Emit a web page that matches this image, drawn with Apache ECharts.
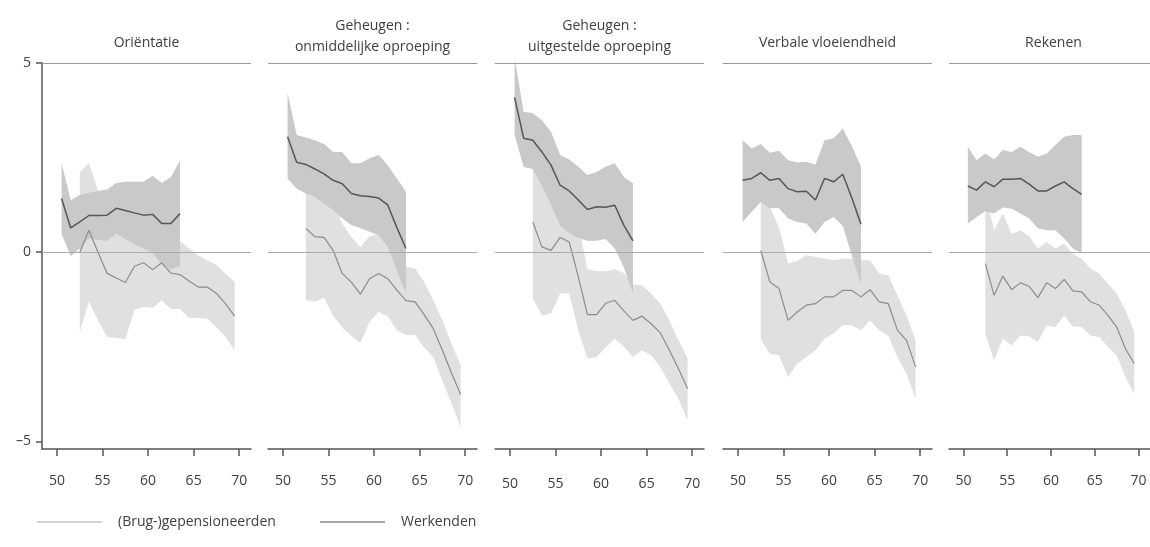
<!DOCTYPE html>
<html>
<head>
<meta charset="utf-8">
<script src="https://cdn.jsdelivr.net/npm/echarts@6/dist/echarts.min.js"></script>
<style>
html,body{margin:0;padding:0;background:#fff;}
#chart{width:1150px;height:547px;}
</style>
</head>
<body>
<div id="chart"></div>
<script>
// ---- data ----
const PANEL_TITLES = ['Oriëntatie', 'Geheugen :\nonmiddelijke oproeping', 'Geheugen :\nuitgestelde oproeping', 'Verbale vloeiendheid', 'Rekenen'];
const X_TICKS = [50, 55, 60, 65, 70];
const Y_TICKS = [-5, 0, 5];
const SERIES_RET = '(Brug-)gepensioneerden';
const SERIES_WERK = 'Werkenden';

const AGES_WERK = [50.5, 51.5, 52.5, 53.5, 54.5, 55.5, 56.5, 57.5, 58.5, 59.5, 60.5, 61.5, 62.5, 63.5];
const AGES_RET = [52.5, 53.5, 54.5, 55.5, 56.5, 57.5, 58.5, 59.5, 60.5, 61.5, 62.5, 63.5, 64.5, 65.5, 66.5, 67.5, 68.5, 69.5];

// Panel 1: Oriëntatie
const werkMean1 = [1.42, 0.64, 0.8, 0.97, 0.97, 0.98, 1.16, 1.1, 1.04, 0.98, 1.0, 0.76, 0.76, 1.02];
const werkHi1   = [2.36, 1.38, 1.51, 1.57, 1.62, 1.66, 1.83, 1.86, 1.86, 1.86, 2.02, 1.83, 1.98, 2.42];
const werkLo1   = [0.48, -0.1, 0.09, 0.37, 0.32, 0.3, 0.49, 0.34, 0.22, 0.1, -0.02, -0.31, -0.45, -0.38];
const retMean1  = [0.0, 0.58, 0.0, -0.56, -0.68, -0.8, -0.37, -0.28, -0.46, -0.28, -0.55, -0.59, -0.76, -0.92, -0.92, -1.09, -1.36, -1.69];
const retHi1    = [2.11, 2.35, 1.64, 1.1, 0.9, 0.7, 0.8, 0.9, 0.55, 0.7, 0.4, 0.3, 0.1, -0.08, -0.21, -0.34, -0.56, -0.78];
const retLo1    = [-2.1, -1.31, -1.8, -2.24, -2.27, -2.3, -1.53, -1.45, -1.47, -1.27, -1.5, -1.5, -1.74, -1.74, -1.76, -1.98, -2.24, -2.59];

// Panel 2: Geheugen: onmiddelijke oproeping
const werkMean2 = [3.05, 2.38, 2.32, 2.2, 2.07, 1.9, 1.81, 1.55, 1.49, 1.47, 1.43, 1.25, 0.65, 0.1];
const werkHi2   = [4.2, 3.1, 3.03, 2.96, 2.86, 2.65, 2.65, 2.35, 2.35, 2.48, 2.57, 2.3, 1.95, 1.6];
const werkLo2   = [1.95, 1.68, 1.55, 1.46, 1.29, 1.11, 0.89, 0.72, 0.63, 0.54, 0.45, 0.14, -0.48, -1.09];
const retMean2  = [0.63, 0.41, 0.39, 0.05, -0.56, -0.79, -1.11, -0.7, -0.56, -0.7, -1.0, -1.28, -1.31, -1.65, -2.02, -2.59, -3.19, -3.76];
const retHi2    = [2.53, 2.12, 1.98, 1.3, 0.76, 0.4, 0.14, 0.42, 0.49, 0.29, 0.06, -0.39, -0.43, -0.79, -1.27, -1.8, -2.42, -2.99];
const retLo2    = [-1.27, -1.3, -1.2, -1.67, -1.99, -2.21, -2.4, -1.84, -1.58, -1.69, -2.06, -2.19, -2.19, -2.52, -2.77, -3.39, -4.0, -4.62];

// Panel 3: Geheugen: uitgestelde oproeping
const werkMean3 = [4.09, 3.01, 2.96, 2.65, 2.3, 1.77, 1.62, 1.38, 1.13, 1.2, 1.19, 1.24, 0.71, 0.3];
const werkHi3   = [5.12, 3.71, 3.67, 3.49, 3.18, 2.57, 2.45, 2.26, 2.04, 2.12, 2.26, 2.35, 1.99, 1.82];
const werkLo3   = [3.1, 2.25, 2.2, 1.75, 1.25, 0.7, 0.5, 0.38, 0.3, 0.3, 0.35, 0.1, -0.4, -1.1];
const retMean3  = [0.8, 0.14, 0.05, 0.39, 0.27, -0.65, -1.65, -1.65, -1.35, -1.27, -1.55, -1.8, -1.69, -1.89, -2.13, -2.59, -3.08, -3.61];
const retHi3    = [2.82, 1.95, 1.72, 1.87, 1.63, 0.76, -0.45, -0.5, -0.5, -0.45, -0.55, -0.85, -0.87, -1.09, -1.36, -1.8, -2.33, -2.81];
const retLo3    = [-1.22, -1.67, -1.62, -1.09, -1.09, -2.06, -2.81, -2.77, -2.52, -2.28, -2.5, -2.77, -2.59, -2.72, -3.03, -3.47, -3.87, -4.44];

// Panel 4: Verbale vloeiendheid
const werkMean4 = [1.9, 1.95, 2.1, 1.9, 1.95, 1.68, 1.6, 1.61, 1.38, 1.95, 1.86, 2.06, 1.43, 0.74];
const werkHi4   = [2.96, 2.74, 2.86, 2.63, 2.68, 2.43, 2.37, 2.39, 2.32, 2.96, 3.01, 3.27, 2.81, 2.26];
const werkLo4   = [0.8, 1.07, 1.33, 1.16, 1.16, 0.89, 0.8, 0.76, 0.49, 0.8, 0.93, 0.7, -0.1, -0.83];
const retMean4  = [0.05, -0.79, -0.96, -1.8, -1.58, -1.4, -1.36, -1.18, -1.18, -1.01, -1.01, -1.18, -0.99, -1.31, -1.36, -2.06, -2.33, -3.03];
const retHi4    = [2.3, 1.2, 0.65, -0.3, -0.23, -0.08, -0.12, -0.17, -0.21, -0.17, -0.17, -0.21, -0.21, -0.56, -0.61, -1.14, -1.67, -2.33];
const retLo4    = [-2.3, -2.68, -2.72, -3.3, -2.94, -2.77, -2.59, -2.28, -2.15, -1.93, -1.93, -2.06, -1.8, -2.06, -2.2, -2.77, -3.21, -3.87];

// Panel 5: Rekenen
const werkMean5 = [1.75, 1.64, 1.86, 1.73, 1.93, 1.93, 1.95, 1.8, 1.62, 1.62, 1.75, 1.86, 1.68, 1.53];
const werkHi5   = [2.79, 2.43, 2.61, 2.45, 2.7, 2.65, 2.79, 2.65, 2.52, 2.61, 2.83, 3.05, 3.1, 3.1];
const werkLo5   = [0.76, 0.93, 1.09, 1.02, 1.18, 1.15, 1.02, 0.89, 0.63, 0.58, 0.58, 0.36, 0.1, -0.02];
const retMean5  = [-0.3, -1.14, -0.63, -0.99, -0.81, -0.9, -1.2, -0.81, -0.96, -0.72, -1.02, -1.05, -1.31, -1.4, -1.67, -1.98, -2.55, -2.94];
const retHi5    = [1.55, 0.58, 1.02, 0.48, 0.58, 0.42, 0.1, 0.27, 0.1, 0.23, -0.04, -0.17, -0.43, -0.56, -0.83, -1.09, -1.53, -2.11];
const retLo5    = [-2.15, -2.86, -2.28, -2.46, -2.2, -2.22, -2.37, -1.93, -1.98, -1.67, -1.96, -1.98, -2.2, -2.24, -2.5, -2.73, -3.3, -3.74];

const PANELS = [
  {werkMean: werkMean1, werkHi: werkHi1, werkLo: werkLo1, retMean: retMean1, retHi: retHi1, retLo: retLo1},
  {werkMean: werkMean2, werkHi: werkHi2, werkLo: werkLo2, retMean: retMean2, retHi: retHi2, retLo: retLo2},
  {werkMean: werkMean3, werkHi: werkHi3, werkLo: werkLo3, retMean: retMean3, retHi: retHi3, retLo: retLo3},
  {werkMean: werkMean4, werkHi: werkHi4, werkLo: werkLo4, retMean: retMean4, retHi: retHi4, retLo: retLo4},
  {werkMean: werkMean5, werkHi: werkHi5, werkLo: werkLo5, retMean: retMean5, retHi: retHi5, retLo: retLo5}
];

// ---- layout / style ----
const FONT = 'Open Sans';
const TXT = '#404040';
const AXIS_COL = '#555555';
const GRID_LEFT = [42, 268, 495, 723, 949];
const GRID_W = 209;
const GRID_TOP = 63;
const GRID_H = 386;
const X_MIN = 48.35, X_MAX = 71.3;
const Y_MIN = -5.2, Y_MAX = 5;
const LIGHT_BAND = '#e0e0e0';
const DARK_BAND = '#c9c9c9';
const RET_LINE = '#8c8c8c';
const WERK_LINE = '#565656';

const grids = [], xAxes = [], yAxes = [], titles = [], series = [];

function bandSeries(i, ages, lo, hi, color, z) {
  // one data item per age (x, lo, hi); the polygon is drawn once through the axes' scales
  return {
    type: 'custom', xAxisIndex: i, yAxisIndex: i, silent: true, animation: false, clip: false, z: z,
    data: ages.map((a, k) => [a, lo[k], hi[k]]),
    encode: {x: 0, y: [1, 2]},
    renderItem: function (params, api) {
      if (params.dataIndex !== 0) return null;
      const pts = [];
      for (let k = 0; k < ages.length; k++) pts.push(api.coord([ages[k], hi[k]]));
      for (let k = ages.length - 1; k >= 0; k--) pts.push(api.coord([ages[k], lo[k]]));
      return {type: 'polygon', shape: {points: pts}, style: {fill: color, stroke: null}};
    }
  };
}

PANELS.forEach((p, i) => {
  grids.push({left: GRID_LEFT[i], top: GRID_TOP, width: GRID_W, height: GRID_H, containLabel: false});
  xAxes.push({
    type: 'value', gridIndex: i, min: X_MIN, max: X_MAX,
    axisLine: {show: true, onZero: false, lineStyle: {color: AXIS_COL, width: 1.5}},
    axisTick: {show: true, length: 7, customValues: X_TICKS, lineStyle: {color: AXIS_COL, width: 1.5}},
    axisLabel: {show: true, customValues: X_TICKS, margin: i === 2 ? 28 : 25, color: TXT, fontSize: 14, fontFamily: FONT},
    splitLine: {show: false}
  });
  yAxes.push({
    type: 'value', gridIndex: i, min: Y_MIN, max: Y_MAX,
    show: i === 0,
    axisLine: {show: i === 0, lineStyle: {color: AXIS_COL, width: 1.5}},
    axisTick: {show: i === 0, length: 6, customValues: Y_TICKS, lineStyle: {color: AXIS_COL, width: 1.5}},
    axisLabel: {show: i === 0, customValues: Y_TICKS, margin: 11, color: TXT, fontSize: 14, fontFamily: FONT,
      formatter: v => (v < 0 ? '\u2013' + Math.abs(v) : String(v))},
    splitLine: {show: false}
  });
  const twoLine = PANEL_TITLES[i].indexOf('\n') >= 0;
  titles.push({
    text: PANEL_TITLES[i], left: GRID_LEFT[i] + GRID_W / 2, textAlign: 'center',
    top: twoLine ? 16 : 33, padding: 0,
    textStyle: {fontSize: 14, fontWeight: 'normal', color: TXT, fontFamily: FONT, lineHeight: 21}
  });

  const base = {type: 'line', xAxisIndex: i, yAxisIndex: i, symbol: 'none', silent: true, clip: false, animation: false};

  series.push(bandSeries(i, AGES_RET, p.retLo, p.retHi, LIGHT_BAND, 1));
  series.push(bandSeries(i, AGES_WERK, p.werkLo, p.werkHi, DARK_BAND, 2));
  // reference lines at 0 and 5
  series.push(Object.assign({}, base, {
    name: 'ref' + i, data: [], z: 3,
    markLine: {
      silent: true, symbol: 'none', animation: false, label: {show: false},
      data: [
        {yAxis: 0, lineStyle: {color: '#ababab', width: 1.2, type: 'solid'}},
        {yAxis: 5, lineStyle: {color: '#9a9a9a', width: 1.2, type: 'solid'}}
      ]
    }
  }));
  series.push(Object.assign({}, base, {
    name: SERIES_RET, data: AGES_RET.map((a, k) => [a, p.retMean[k]]),
    lineStyle: {color: RET_LINE, width: 1.2}, itemStyle: {color: RET_LINE}, z: 4
  }));
  series.push(Object.assign({}, base, {
    name: SERIES_WERK, data: AGES_WERK.map((a, k) => [a, p.werkMean[k]]),
    lineStyle: {color: WERK_LINE, width: 1.5}, itemStyle: {color: WERK_LINE}, z: 5
  }));
});

const legendBase = {
  orient: 'horizontal', top: 515, padding: 0, icon: 'rect', itemWidth: 65, itemHeight: 1.5,
  selectedMode: false,
  textStyle: {fontSize: 14, color: TXT, fontFamily: FONT, padding: [0, 0, 0, 11]}
};

const option = {
  animation: false,
  backgroundColor: '#ffffff',
  textStyle: {fontFamily: FONT},
  title: titles,
  grid: grids,
  xAxis: xAxes,
  yAxis: yAxes,
  legend: [
    Object.assign({}, legendBase, {left: 37, data: [{name: SERIES_RET, itemStyle: {color: '#c4c4c4'}}]}),
    Object.assign({}, legendBase, {left: 320, data: [{name: SERIES_WERK, itemStyle: {color: '#8a8a8a'}}]})
  ],
  series: series
};

const chart = echarts.init(document.getElementById('chart'), null, {renderer: 'canvas'});
chart.setOption(option);
</script>
</body>
</html>
